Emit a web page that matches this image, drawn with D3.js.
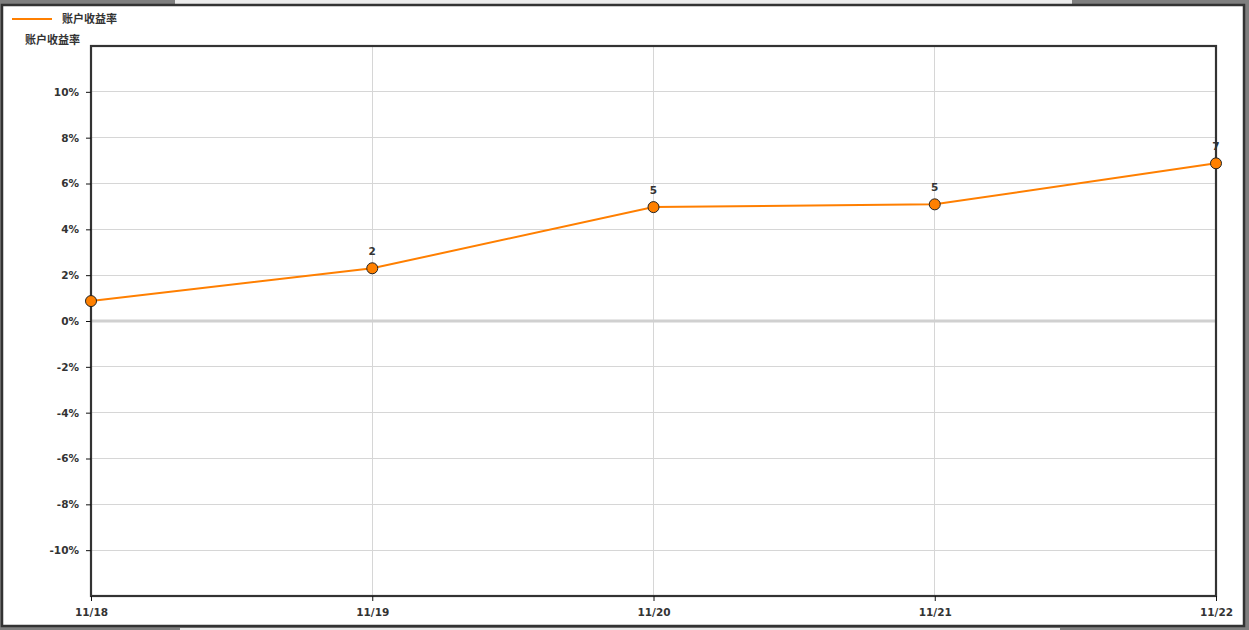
<!DOCTYPE html>
<html><head><meta charset="utf-8">
<script src="https://cdn.jsdelivr.net/npm/d3@7"></script>
<style>
html,body{margin:0;padding:0;background:#7f7f7f;}
svg{display:block;}
</style></head>
<body>
<svg id="c" width="1249" height="630"></svg>
<script>
const categories = ["11/18","11/19","11/20","11/21","11/22"];
const values = [0.87, 2.3, 4.97, 5.09, 6.88];
const pointLabels = [null, "2", "5", "5", "7"];
const yTicks = [-10,-8,-6,-4,-2,0,2,4,6,8,10];
const seriesName = "账户收益率";
const yTitle = "账户收益率";

const svg = d3.select("#c");
const font = "'DejaVu Sans', Verdana, sans-serif";
const cjk = "'Noto Sans CJK SC', sans-serif";

// window frame
svg.append("rect").attr("x",0).attr("y",0).attr("width",1249).attr("height",4).attr("fill","#ececec");
svg.append("rect").attr("x",0).attr("y",0).attr("width",175).attr("height",4).attr("fill","#7f7f7f");
svg.append("rect").attr("x",1072).attr("y",0).attr("width",177).attr("height",4).attr("fill","#7f7f7f");
svg.append("rect").attr("x",180).attr("y",628).attr("width",880).attr("height",2).attr("fill","#e8e8e8");
svg.append("rect").attr("x",2).attr("y",5).attr("width",1242).attr("height",621)
  .attr("fill","#fff").attr("stroke","#333").attr("stroke-width",2.5);

const m = {left:91, right:1216, top:46, bottom:596};
const x = d3.scalePoint().domain(categories).range([m.left, m.right]);
const y = d3.scaleLinear().domain([-12,12]).range([m.bottom, m.top]);

// gridlines
svg.append("g").selectAll("line").data(yTicks.filter(d=>d!==0)).join("line")
  .attr("x1",m.left).attr("x2",m.right).attr("y1",d=>y(d)).attr("y2",d=>y(d))
  .attr("stroke","#d6d6d6").attr("stroke-width",1).attr("shape-rendering","crispEdges");
svg.append("g").selectAll("line").data(categories).join("line")
  .attr("x1",d=>x(d)).attr("x2",d=>x(d)).attr("y1",m.top).attr("y2",m.bottom)
  .attr("stroke","#d6d6d6").attr("stroke-width",1).attr("shape-rendering","crispEdges");
svg.append("line").attr("x1",m.left).attr("x2",m.right).attr("y1",y(0)).attr("y2",y(0))
  .attr("stroke","#d0d0d0").attr("stroke-width",3);

// frame
svg.append("rect").attr("x",m.left).attr("y",m.top).attr("width",m.right-m.left).attr("height",m.bottom-m.top)
  .attr("fill","none").attr("stroke","#333").attr("stroke-width",2.2);

// axes
const yAxis = d3.axisLeft(y).tickValues(yTicks).tickSize(5).tickPadding(7).tickFormat(d=>d+"%");
const gy = svg.append("g").attr("transform",`translate(${m.left},0)`).call(yAxis);
gy.select(".domain").remove();
gy.selectAll("line").attr("stroke","#111");
gy.selectAll("text").attr("font-family",font).attr("font-weight","bold").attr("font-size",10.5).attr("fill","#333");

const xAxis = d3.axisBottom(x).tickSize(5).tickPadding(8);
const gx = svg.append("g").attr("transform",`translate(0,${m.bottom})`).call(xAxis);
gx.select(".domain").remove();
gx.selectAll("line").attr("stroke","#111");
gx.selectAll("text").attr("font-family",font).attr("font-weight","bold").attr("font-size",10.5).attr("fill","#333");

// line
const data = categories.map((c,i)=>({c, v:values[i], l:pointLabels[i]}));
svg.append("path").datum(data)
  .attr("d", d3.line().x(d=>x(d.c)).y(d=>y(d.v)))
  .attr("fill","none").attr("stroke","#ff7f00").attr("stroke-width",2);
svg.append("g").selectAll("circle").data(data).join("circle")
  .attr("cx",d=>x(d.c)).attr("cy",d=>y(d.v)).attr("r",5.5)
  .attr("fill","#ff8000").attr("stroke","#222").attr("stroke-width",1);
svg.append("g").selectAll("text").data(data.filter(d=>d.l!==null)).join("text")
  .attr("x",d=>x(d.c)).attr("y",d=>y(d.v)-13)
  .attr("text-anchor","middle").attr("font-family",font).attr("font-weight","bold")
  .attr("font-size",10.5).attr("fill","#333").text(d=>d.l);

// legend
svg.append("line").attr("x1",12).attr("x2",52).attr("y1",19).attr("y2",19)
  .attr("stroke","#ff7f00").attr("stroke-width",2);
svg.append("text").attr("x",62).attr("y",23).attr("font-family",cjk).attr("font-weight","bold")
  .attr("font-size",11).attr("fill","#333").text(seriesName);
// y title
svg.append("text").attr("x",25).attr("y",44).attr("font-family",cjk).attr("font-weight","bold")
  .attr("font-size",11).attr("fill","#333").text(yTitle);
</script>
</body></html>
